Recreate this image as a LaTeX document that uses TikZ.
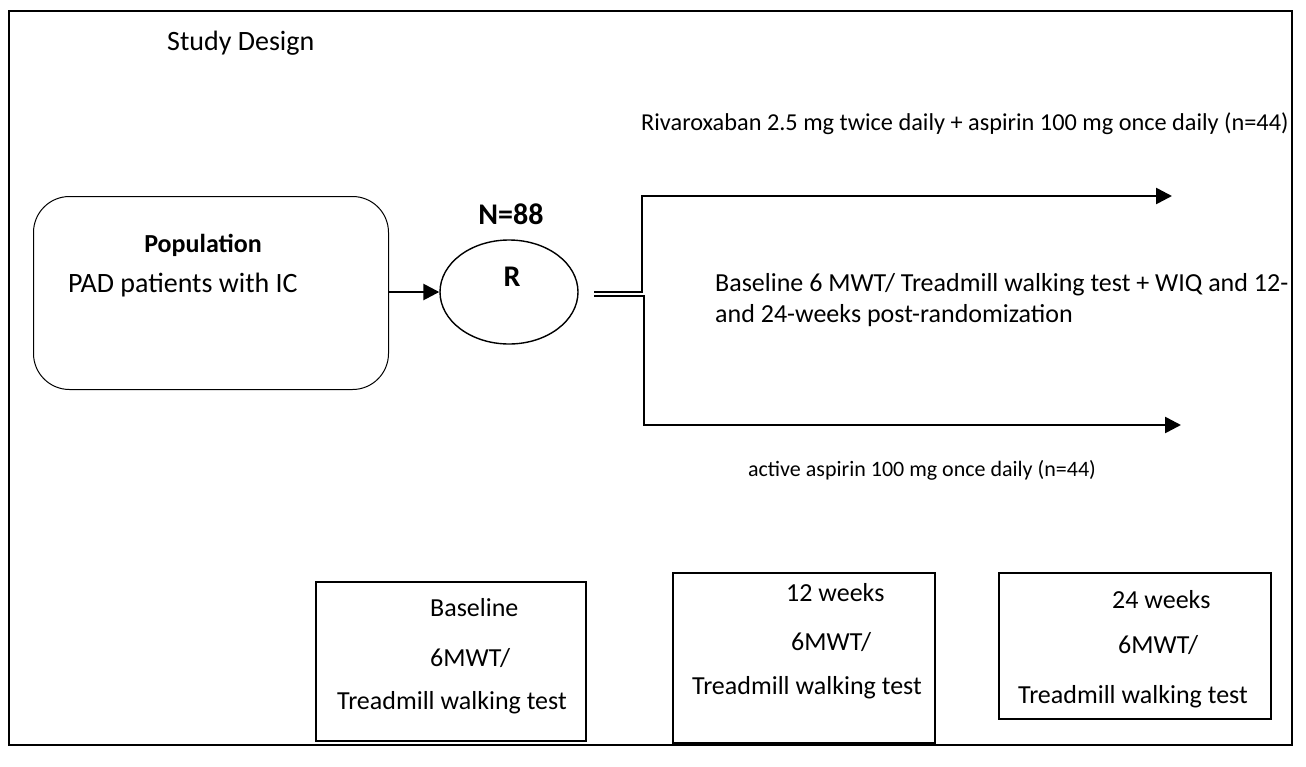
\documentclass[tikz,border=0pt]{standalone}
\usepackage{fontspec}
\setmainfont{Carlito}
\usetikzlibrary{arrows.meta,shapes.geometric}
\begin{document}
\begin{tikzpicture}[x=1pt,y=-1pt,
  txt/.style={inner sep=0pt, font=\fontsize{26}{31}\selectfont},
  bigtxt/.style={inner sep=0pt, font=\fontsize{28}{34}\selectfont},
  smalltxt/.style={inner sep=0pt, font=\fontsize{24.3}{29}\selectfont},
  acttxt/.style={inner sep=0pt, font=\fontsize{22}{27}\selectfont},
  boldtxt/.style={inner sep=0pt, font=\fontsize{26}{31}\selectfont\bfseries},
  bigbold/.style={inner sep=0pt, font=\fontsize{30}{36}\selectfont\bfseries},
  rbox/.style={draw, line width=1.6pt, inner sep=0pt, anchor=north west},
  arr/.style={line width=2.6pt, -{Triangle[length=16pt,width=16pt]}},
]
\useasboundingbox (0,0) rectangle (1306,766);
\draw[line width=2pt] (9,11) rectangle (1292,745);

\node[bigtxt, anchor=west] (title) at (167,43) {Study Design};
\node[smalltxt, anchor=west] (riva) at (641,124) {Rivaroxaban 2.5 mg twice daily + aspirin 100 mg once daily (n=44)};
\node[bigbold] (n88) at (511,214) {N=88};

\node[draw, line width=1pt, rounded corners=36pt, minimum width=355pt, minimum height=193pt, anchor=north west, inner sep=0pt] (pop) at (33,196) {};
\node[boldtxt] (poplabel) at (203,245) {Population};
\node[bigtxt, anchor=west] (pad) at (68,285) {PAD patients with IC};

\node[ellipse, draw, line width=1.4pt, minimum width=138pt, minimum height=104pt, inner sep=0pt] (rnd) at (509,292) {};
\node[bigbold] (rlabel) at (512,277) {R};

\draw[arr] (pop.east |- rnd.west) -- (rnd.west);

\coordinate (s1) at (594,292);
\coordinate (j1) at (642,292);
\coordinate (t1) at (1172,196);
\coordinate (s2) at (594,296);
\coordinate (j2) at (644,296);
\coordinate (t2) at (1181,425);
\draw[arr] (s1) -- (j1) |- (t1);
\draw[arr] (s2) -- (j2) |- (t2);

\node[txt, anchor=west] (mid1) at (715,285) {Baseline 6 MWT/ Treadmill walking test + WIQ and 12-};
\node[txt, anchor=west] (mid2) at (715,316) {and 24-weeks post-randomization};

\node[acttxt] (act) at (922,470) {active aspirin 100 mg once daily (n=44)};

\node[rbox, minimum width=270pt, minimum height=159pt] (b1) at (315,581) {};
\node[txt, anchor=west] (b1a) at (430,608) {Baseline};
\node[txt, anchor=west] (b1b) at (430,658) {6MWT/};
\node[txt, anchor=west] (b1c) at (337,703) {Treadmill walking test};

\node[rbox, minimum width=262pt, minimum height=170pt] (b2) at (672,572) {};
\node[txt, anchor=west] (b2a) at (786,593) {12 weeks};
\node[txt, anchor=west] (b2b) at (791,642) {6MWT/};
\node[txt, anchor=west] (b2c) at (692,688) {Treadmill walking test};

\node[rbox, minimum width=272pt, minimum height=146pt] (b3) at (998,572) {};
\node[txt, anchor=west] (b3a) at (1112,600) {24 weeks};
\node[txt, anchor=west] (b3b) at (1118,645) {6MWT/};
\node[txt, anchor=west] (b3c) at (1018,697) {Treadmill walking test};
\end{tikzpicture}
\end{document}
